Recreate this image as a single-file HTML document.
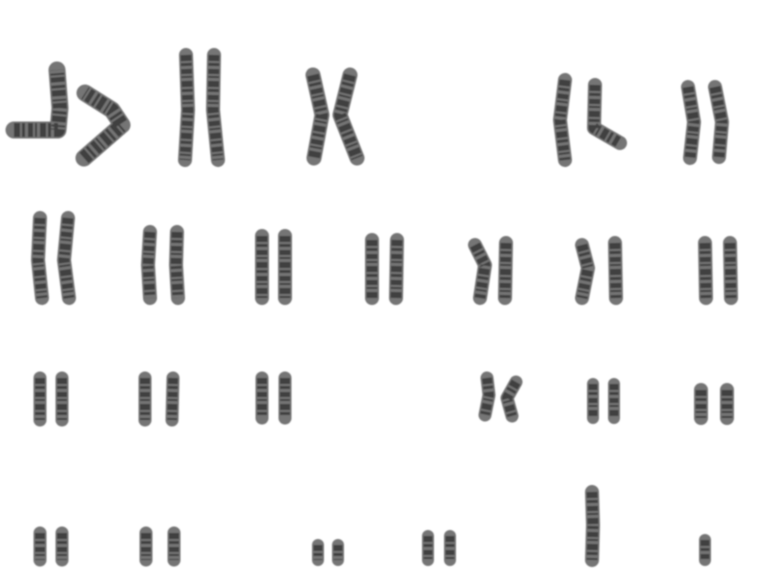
<!DOCTYPE html>
<html><head><meta charset="utf-8"><style>
html,body{margin:0;padding:0;background:#fff;}
svg{display:block;}
</style></head><body>
<svg width="768" height="582" viewBox="0 0 768 582">
<defs><filter id="f" x="-20%" y="-20%" width="140%" height="140%"><feGaussianBlur stdDeviation="0.9"/></filter></defs>
<g id="g" filter="url(#f)" fill="none" stroke-linecap="round" stroke-linejoin="round"></g>
</svg>
<script>
const chromosomes=[
 [[[14,130],[58,130],[60,108],[57,70]],17],
 [[[84,158],[122,125],[112,110],[85,93]],17],
 [[[186,55],[188,110],[185,160]],14],
 [[[214,55],[213,110],[218,160]],14],
 [[[313,75],[322,115],[314,158]],15],
 [[[350,75],[340,115],[357,158]],15],
 [[[565,80],[560,120],[565,160]],14],
 [[[595,85],[594,128],[620,143]],14],
 [[[688,87],[694,122],[690,158]],14],
 [[[715,87],[722,122],[719,157]],14],
 [[[40,218],[38,260],[42,298]],14],
 [[[68,218],[64,260],[69,298]],14],
 [[[150,232],[148,265],[150,298]],14],
 [[[177,232],[176,265],[178,298]],14],
 [[[262,236],[262,298]],14],
 [[[285,236],[285,298]],14],
 [[[372,240],[372,298]],14],
 [[[397,240],[396,298]],14],
 [[[475,245],[485,265],[480,298]],14],
 [[[506,243],[505,298]],14],
 [[[582,245],[588,268],[582,298]],14],
 [[[615,243],[616,298]],14],
 [[[705,243],[706,298]],14],
 [[[730,243],[731,298]],14],
 [[[40,378],[40,420]],13],
 [[[62,378],[62,420]],13],
 [[[145,378],[145,420]],13],
 [[[173,378],[172,420]],13],
 [[[262,378],[262,418]],13],
 [[[285,378],[285,418]],13],
 [[[487,378],[489,395],[485,415]],13],
 [[[516,382],[507,398],[512,416]],13],
 [[[593,384],[593,418]],12],
 [[[614,384],[614,418]],12],
 [[[701,390],[701,418]],14],
 [[[727,390],[727,418]],14],
 [[[40,533],[40,560]],13],
 [[[62,533],[62,560]],13],
 [[[146,533],[146,560]],13],
 [[[174,533],[174,560]],13],
 [[[318,545],[318,560]],12],
 [[[338,545],[338,560]],12],
 [[[428,536],[428,560]],12],
 [[[450,536],[450,560]],12],
 [[[592,492],[593,525],[592,560]],14],
 [[[705,540],[705,560]],12]
];
const g=document.getElementById('g');
const ns='http://www.w3.org/2000/svg';
chromosomes.forEach((c,i)=>{
 const pts=c[0].map(p=>p.join(',')).join(' ');
 const base=document.createElementNS(ns,'polyline');
 base.setAttribute('points',pts);
 base.setAttribute('stroke','#747474');
 base.setAttribute('stroke-width',c[1]);
 
 
 g.appendChild(base);
 const band=document.createElementNS(ns,'polyline');
 band.setAttribute('points',pts);
 band.setAttribute('stroke','#404040');
 band.setAttribute('stroke-width',c[1]-3);
 band.setAttribute('stroke-linecap','butt');
 band.setAttribute('stroke-dasharray','6 2 3 3 5 2 2 3');
 
 
 g.appendChild(band);
});
</script>
</body></html>
